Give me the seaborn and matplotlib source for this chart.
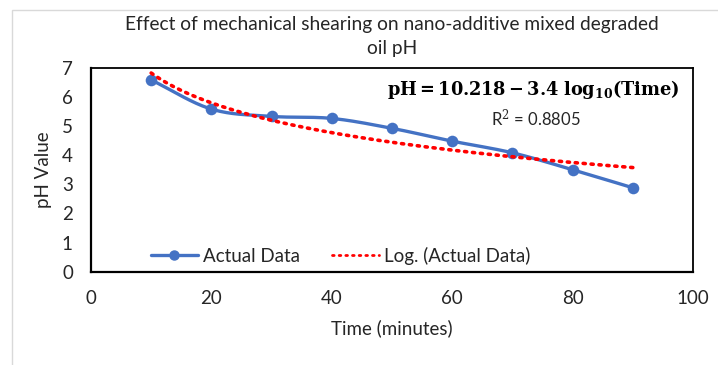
import numpy as np
import pandas as pd
import matplotlib
matplotlib.use("Agg")
import matplotlib.pyplot as plt
from matplotlib.lines import Line2D
from matplotlib.patches import Rectangle
import seaborn as sns

# Measured pH of the degraded oil after shearing
time_min = [10, 20, 30, 40, 50, 60, 70, 80, 90]
ph_values = [6.58, 5.58, 5.33, 5.26, 4.92, 4.48, 4.08, 3.50, 2.88]

# Logarithmic trendline coefficients: pH = a - b*log10(Time)
trend_a = 10.218
trend_b = 3.4
r_squared = 0.8805

x_ticks = [0, 20, 40, 60, 80, 100]
y_ticks = [0, 1, 2, 3, 4, 5, 6, 7]

BLUE = "#4472C4"
TEXT = "#262626"

sns.set_theme(style="white")
plt.rcParams["font.family"] = ["Lato", "DejaVu Sans"]
plt.rcParams["mathtext.fontset"] = "dejavuserif"


def smooth_curve(x, y, steps=20):
    """Catmull-Rom spline through the points, like a smoothed line chart."""
    x = np.asarray(x, float)
    y = np.asarray(y, float)
    px = np.concatenate([[2 * x[0] - x[1]], x, [2 * x[-1] - x[-2]]])
    py = np.concatenate([[2 * y[0] - y[1]], y, [2 * y[-1] - y[-2]]])
    xs, ys = [], []
    t = np.linspace(0, 1, steps, endpoint=False)
    for i in range(1, len(px) - 2):
        for arr, out in ((px, xs), (py, ys)):
            p0, p1, p2, p3 = arr[i - 1], arr[i], arr[i + 1], arr[i + 2]
            seg = 0.5 * ((2 * p1) + (-p0 + p2) * t
                         + (2 * p0 - 5 * p1 + 4 * p2 - p3) * t ** 2
                         + (-p0 + 3 * p1 - 3 * p2 + p3) * t ** 3)
            out.extend(seg)
    xs.append(x[-1])
    ys.append(y[-1])
    return np.array(xs), np.array(ys)


fig = plt.figure(figsize=(7.18, 3.65), dpi=100)
ax = fig.add_axes([0.1267, 0.2556, 0.8385, 0.5589])

# Chart-area border
fig.patches.append(Rectangle((12 / 718, -0.1), 1.2, 1 - 10 / 365 + 0.1,
                             transform=fig.transFigure, fill=False,
                             edgecolor="#d9d9d9", linewidth=1.0))

df = pd.DataFrame({"Time": time_min, "pH": ph_values})
sx, sy = smooth_curve(time_min, ph_values)
smooth_df = pd.DataFrame({"Time": sx, "pH": sy})

trend_x = np.linspace(min(time_min), max(time_min), 200)
trend_df = pd.DataFrame({"Time": trend_x,
                         "pH": trend_a - trend_b * np.log10(trend_x)})

sns.lineplot(data=smooth_df, x="Time", y="pH", ax=ax, color=BLUE,
             linewidth=2.4, sort=False, estimator=None, zorder=3)
sns.scatterplot(data=df, x="Time", y="pH", ax=ax, color=BLUE, s=70,
                edgecolor=BLUE, linewidth=0, zorder=4)
sns.lineplot(data=trend_df, x="Time", y="pH", ax=ax, color="#ff0000",
             linewidth=2.6, linestyle=(0, (0.6, 1.6)),
             dash_capstyle="round", zorder=5)

ax.set_xlim(0, 100)
ax.set_ylim(0, 7)
ax.set_xticks(x_ticks)
ax.set_yticks(y_ticks)
ax.tick_params(axis="both", labelsize=13.5, colors=TEXT, direction="out",
               length=5, width=1.5, color="black")
ax.tick_params(axis="x", pad=8)
ax.tick_params(axis="y", pad=8)
for side, spine in ax.spines.items():
    spine.set_visible(True)
    spine.set_color("black")
    spine.set_linewidth(1.6 if side in ("left", "bottom") else 1.3)

ax.set_xlabel("Time (minutes)", fontsize=13.5, color=TEXT, labelpad=9)
ax.set_ylabel("pH Value", fontsize=13.5, color=TEXT, labelpad=7)

fig.text(0.546, 0.90, "Effect of mechanical shearing on nano-additive mixed degraded\noil pH",
         ha="center", va="center", fontsize=13.8, color=TEXT, linespacing=1.45)

ax.text(0.734, 0.895, r"$\mathbf{pH = 10.218 - 3.4\ log_{10}(Time)}$",
        transform=ax.transAxes, ha="center", va="center", fontsize=12.8,
        color="black")
ax.text(0.739, 0.755, r"R$^2$ = %.4f" % r_squared, transform=ax.transAxes,
        ha="center", va="center", fontsize=12, color=TEXT)

handles = [
    Line2D([0], [0], color=BLUE, linewidth=2.4, marker="o", markersize=6.5),
    Line2D([0], [0], color="#ff0000", linewidth=2.0,
           linestyle=(0, (0.6, 1.8)), dash_capstyle="round"),
]
ax.legend(handles, ["Actual Data", "Log. (Actual Data)"], loc="center left",
          bbox_to_anchor=(0.0997, 0.077), ncol=2, frameon=False, fontsize=13.5,
          handlelength=2.5, handletextpad=0.27, columnspacing=1.7,
          borderpad=0, borderaxespad=0, labelcolor=TEXT)

fig.savefig("out.png", dpi=100)
